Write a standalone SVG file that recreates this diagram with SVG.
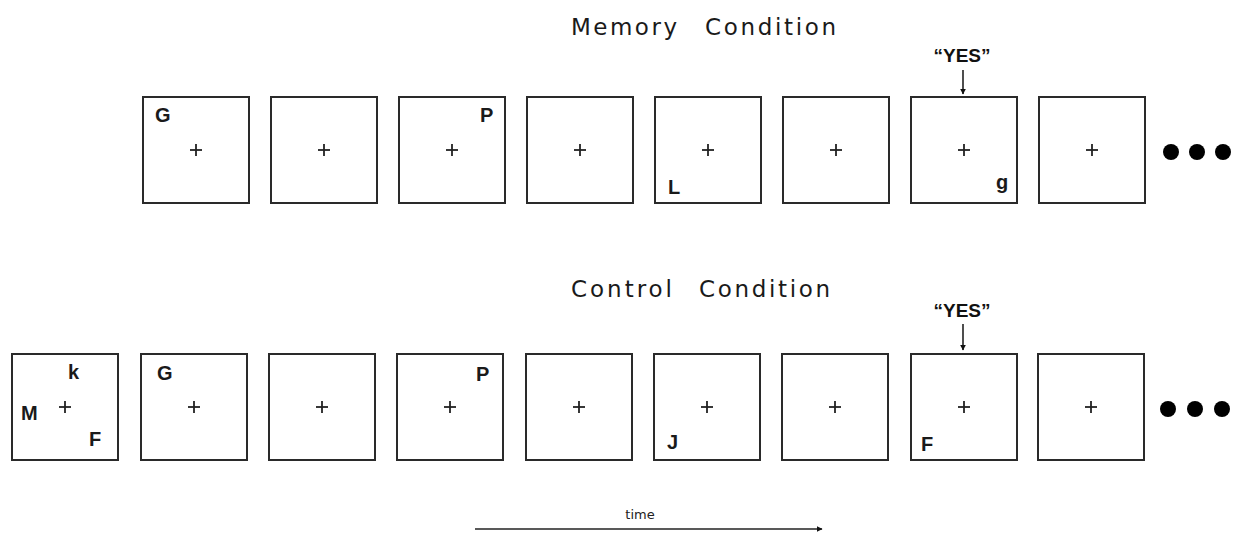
<svg xmlns="http://www.w3.org/2000/svg" width="1235" height="534" viewBox="0 0 1235 534">
<style>
.box{fill:#fff;stroke:#2a2a2a;stroke-width:2}
.cr{stroke:#222;stroke-width:1.8}
.lt{font-family:"Liberation Sans",Arial,sans-serif;font-weight:bold;font-size:20px;fill:#1a1a1a}
.ti{font-family:"DejaVu Sans",sans-serif;font-size:23px;fill:#1a1a1a}
.yes{font-family:"Liberation Sans",Arial,sans-serif;font-weight:bold;font-size:19px;fill:#111}
.dot{fill:#000}
.ln{stroke:#222;stroke-width:1.6;fill:none}
</style>
<defs>
<marker id="ah" viewBox="0 0 10 10" refX="9" refY="5" markerWidth="6" markerHeight="6" orient="auto" markerUnits="userSpaceOnUse">
<path d="M0,0 L10,5 L0,10 z" fill="#111"/>
</marker>
<g id="plus"><line class="cr" x1="-6" y1="0" x2="6" y2="0"/><line class="cr" x1="0" y1="-6" x2="0" y2="6"/></g>
</defs>
<rect width="1235" height="534" fill="#fff"/>
<g id="titles">
<text class="ti" x="571" y="35" textLength="106" lengthAdjust="spacing">Memory</text>
<text class="ti" x="705" y="35" textLength="131" lengthAdjust="spacing">Condition</text>
<text class="ti" x="571" y="297" textLength="101" lengthAdjust="spacing">Control</text>
<text class="ti" x="699" y="297" textLength="131" lengthAdjust="spacing">Condition</text>
</g>
<g id="memory-row">
<g id="m1"><rect class="box" x="143" y="97" width="106" height="106"/><use href="#plus" x="196" y="150"/><text class="lt" x="155" y="122">G</text></g>
<g id="m2"><rect class="box" x="271" y="97" width="106" height="106"/><use href="#plus" x="324" y="150"/></g>
<g id="m3"><rect class="box" x="399" y="97" width="106" height="106"/><use href="#plus" x="452" y="150"/><text class="lt" x="480" y="122">P</text></g>
<g id="m4"><rect class="box" x="527" y="97" width="106" height="106"/><use href="#plus" x="580" y="150"/></g>
<g id="m5"><rect class="box" x="655" y="97" width="106" height="106"/><use href="#plus" x="708" y="150"/><text class="lt" x="668" y="194">L</text></g>
<g id="m6"><rect class="box" x="783" y="97" width="106" height="106"/><use href="#plus" x="836" y="150"/></g>
<g id="m7"><rect class="box" x="911" y="97" width="106" height="106"/><use href="#plus" x="964" y="150"/><text class="lt" x="996" y="189">g</text></g>
<g id="m8"><rect class="box" x="1039" y="97" width="106" height="106"/><use href="#plus" x="1092" y="150"/></g>
<g id="m-dots"><circle class="dot" cx="1171" cy="152" r="8"/><circle class="dot" cx="1197" cy="152" r="8"/><circle class="dot" cx="1223" cy="152" r="8"/></g>
<text class="yes" x="962" y="62" text-anchor="middle">“YES”</text>
</g>
<g id="control-row">
<g id="c1"><rect class="box" x="12" y="354" width="106" height="106"/><use href="#plus" x="65" y="407"/><text class="lt" x="68" y="379">k</text><text class="lt" x="21" y="420">M</text><text class="lt" x="89" y="446">F</text></g>
<g id="c2"><rect class="box" x="141" y="354" width="106" height="106"/><use href="#plus" x="194" y="407"/><text class="lt" x="157" y="380">G</text></g>
<g id="c3"><rect class="box" x="269" y="354" width="106" height="106"/><use href="#plus" x="322" y="407"/></g>
<g id="c4"><rect class="box" x="397" y="354" width="106" height="106"/><use href="#plus" x="450" y="407"/><text class="lt" x="476" y="381">P</text></g>
<g id="c5"><rect class="box" x="526" y="354" width="106" height="106"/><use href="#plus" x="579" y="407"/></g>
<g id="c6"><rect class="box" x="654" y="354" width="106" height="106"/><use href="#plus" x="707" y="407"/><text class="lt" x="667" y="449">J</text></g>
<g id="c7"><rect class="box" x="782" y="354" width="106" height="106"/><use href="#plus" x="835" y="407"/></g>
<g id="c8"><rect class="box" x="911" y="354" width="106" height="106"/><use href="#plus" x="964" y="407"/><text class="lt" x="921" y="451">F</text></g>
<g id="c9"><rect class="box" x="1038" y="354" width="106" height="106"/><use href="#plus" x="1091" y="407"/></g>
<g id="c-dots"><circle class="dot" cx="1168" cy="409" r="8"/><circle class="dot" cx="1195" cy="409" r="8"/><circle class="dot" cx="1222" cy="409" r="8"/></g>
<text class="yes" x="962" y="317" text-anchor="middle">“YES”</text>
</g>
<g id="connectors">
<line class="ln" x1="963" y1="70" x2="963" y2="94" marker-end="url(#ah)"/>
<line class="ln" x1="963" y1="324" x2="963" y2="350" marker-end="url(#ah)"/>
<line class="ln" x1="475" y1="529" x2="822" y2="529" marker-end="url(#ah)"/>
</g>
<text x="640" y="519" text-anchor="middle" style="font-family:'DejaVu Sans',sans-serif;font-size:13px;fill:#222">time</text>
</svg>
